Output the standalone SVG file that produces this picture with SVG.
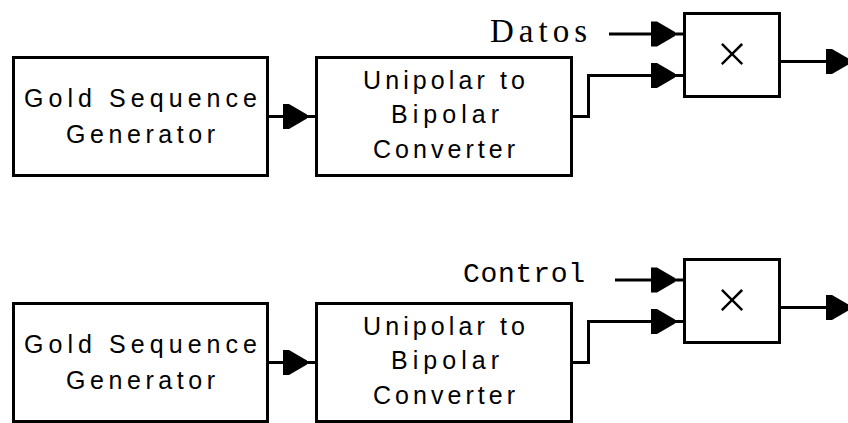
<svg xmlns="http://www.w3.org/2000/svg" xmlns:xlink="http://www.w3.org/1999/xlink" width="848" height="423" viewBox="0 0 848 423">
<style>
.box{fill:#fff;stroke:#000;stroke-width:3}
.wire{fill:none;stroke:#000;stroke-width:3}
.lbl{font-family:"Liberation Sans",Arial,sans-serif;font-size:25px;fill:#000}
.ser{font-family:"Liberation Serif","Times New Roman",serif;font-size:33px;fill:#000}
.mono{font-family:"Liberation Mono","Courier New",monospace;font-size:28px;fill:#000}
.mul{font-family:"Liberation Sans",Arial,sans-serif;font-size:54px;fill:#000;stroke:#fff;stroke-width:1.3;text-anchor:middle}
</style>
<defs>
<path id="ah" d="M0,-12.5 L6,-12.5 L24,-2 L24,2 L6,12.5 L0,12.5 Z" fill="#000"/>
</defs>
<rect width="848" height="423" fill="#fff"/>
<g id="connectors">
<path class="wire" d="M269,116.5 H316"/>
<use xlink:href="#ah" x="283" y="116.5"/>
<path class="wire" d="M609,34 H684"/>
<use xlink:href="#ah" x="651" y="34"/>
<path class="wire" d="M572,116.5 H588.5 V75.5 H684"/>
<use xlink:href="#ah" x="651" y="75.5"/>
<path class="wire" d="M781,61.5 H830"/>
<use xlink:href="#ah" x="826" y="61.5"/>
<path class="wire" d="M269,362.5 H316"/>
<use xlink:href="#ah" x="283" y="362.5"/>
<path class="wire" d="M615,280 H684"/>
<use xlink:href="#ah" x="651" y="280"/>
<path class="wire" d="M572,362.5 H588.5 V321.5 H684"/>
<use xlink:href="#ah" x="651" y="321.5"/>
<path class="wire" d="M781,307.5 H830"/>
<use xlink:href="#ah" x="826" y="307.5"/>
</g>
<g id="gold1">
<rect class="box" x="13.5" y="57.5" width="254" height="118"/>
<text class="lbl" x="24" y="107" textLength="233" lengthAdjust="spacing">Gold Sequence</text>
<text class="lbl" x="66" y="143" textLength="149" lengthAdjust="spacing">Generator</text>
</g>
<g id="conv1">
<rect class="box" x="316.5" y="57.5" width="255" height="118"/>
<text class="lbl" x="363" y="89" textLength="162" lengthAdjust="spacing">Unipolar to</text>
<text class="lbl" x="391" y="123" textLength="108" lengthAdjust="spacing">Bipolar</text>
<text class="lbl" x="373" y="158" textLength="142" lengthAdjust="spacing">Converter</text>
</g>
<g id="datos">
<text class="ser" x="490" y="42" textLength="97" lengthAdjust="spacing">Datos</text>
</g>
<g id="mult1">
<rect class="box" x="684.5" y="13.5" width="95" height="83"/>
<text class="mul" x="732" y="72">×</text>
</g>
<g id="gold2">
<rect class="box" x="13.5" y="303.5" width="254" height="118"/>
<text class="lbl" x="24" y="353" textLength="233" lengthAdjust="spacing">Gold Sequence</text>
<text class="lbl" x="66" y="389" textLength="149" lengthAdjust="spacing">Generator</text>
</g>
<g id="conv2">
<rect class="box" x="316.5" y="303.5" width="255" height="118"/>
<text class="lbl" x="363" y="335" textLength="162" lengthAdjust="spacing">Unipolar to</text>
<text class="lbl" x="391" y="369" textLength="108" lengthAdjust="spacing">Bipolar</text>
<text class="lbl" x="373" y="404" textLength="142" lengthAdjust="spacing">Converter</text>
</g>
<g id="control">
<text class="mono" x="463" y="282" textLength="122" lengthAdjust="spacing">Control</text>
</g>
<g id="mult2">
<rect class="box" x="684.5" y="259.5" width="95" height="83"/>
<text class="mul" x="732" y="318">×</text>
</g>
</svg>
